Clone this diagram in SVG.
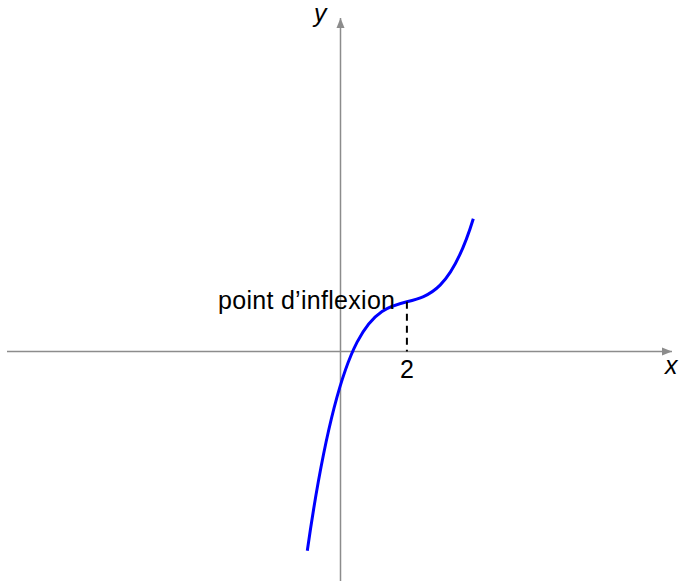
<svg xmlns="http://www.w3.org/2000/svg" width="682" height="582" viewBox="0 0 682 582">
<style>
.axis{stroke:#8c8c8c;stroke-width:1.5;fill:none}
.lbl{font-family:"Liberation Sans",Arial,sans-serif;font-size:25px;fill:#000}
.var{font-style:italic}
</style>
<defs>
<marker id="ah" viewBox="0 0 10 10" refX="10" refY="5" markerWidth="10" markerHeight="10" markerUnits="userSpaceOnUse" orient="auto">
<path d="M0,1 L10,5 L0,9 Z" fill="#8c8c8c"/>
</marker>
</defs>
<rect width="682" height="582" fill="#fff"/>
<g id="axes">
<line class="axis" x1="7" y1="351.5" x2="672" y2="351.5" marker-end="url(#ah)"/>
<line class="axis" x1="340.5" y1="581" x2="340.5" y2="18" marker-end="url(#ah)"/>
<text class="lbl var" x="665" y="374">x</text>
<text class="lbl var" x="314" y="22">y</text>
</g>
<g id="curve">
<path d="M307.3,550.7 C362.63,163.37 417.97,398.53 473.3,218.7" fill="none" stroke="#0000ff" stroke-width="3"/>
</g>
<g id="inflexion">
<line x1="406.9" y1="301.7" x2="406.9" y2="351.5" stroke="#000" stroke-width="2" stroke-dasharray="7,5"/>
<text class="lbl" x="406.9" y="378" text-anchor="middle">2</text>
<text class="lbl" x="218" y="309" textLength="177" lengthAdjust="spacing">point d’inflexion</text>
</g>
</svg>
